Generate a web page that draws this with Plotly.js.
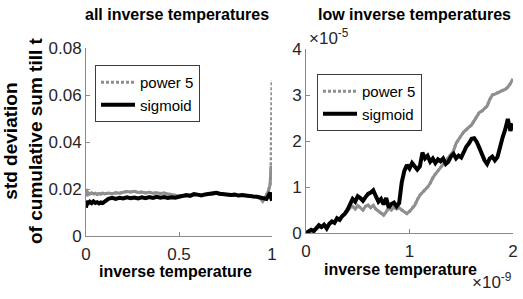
<!DOCTYPE html>
<html>
<head>
<meta charset="utf-8">
<script src="https://cdn.plot.ly/plotly-3.0.1.min.js"></script>
<style>html,body{margin:0;padding:0;background:#fff;}#chart{width:523px;height:299px;}</style>
</head>
<body>
<div id="chart"></div>
<script>
// ---- data: left panel (all inverse temperatures) ----
const leftX = [0,0.005,0.01,0.02,0.03,0.04,0.05,0.06,0.07,0.08,0.09,0.1,0.12,0.14,0.16,0.18,0.2,0.22,0.24,0.26,0.28,0.3,0.32,0.34,0.36,0.38,0.4,0.42,0.44,0.46,0.48,0.5,0.52,0.54,0.56,0.58,0.6,0.62,0.64,0.66,0.68,0.7,0.72,0.74,0.76,0.78,0.8,0.82,0.84,0.86,0.88,0.9,0.92,0.94,0.95,0.96,0.97,0.98,0.99,0.995,1.0];
const leftPower5 = [0.0200,0.0170,0.0185,0.0178,0.0183,0.0179,0.0182,0.0177,0.0181,0.0178,0.0182,0.0179,0.0183,0.0180,0.0184,0.0182,0.0186,0.0189,0.0187,0.0190,0.0185,0.0187,0.0183,0.0186,0.0182,0.0184,0.0181,0.0183,0.0179,0.0176,0.0172,0.0170,0.0172,0.0169,0.0174,0.0178,0.0176,0.0173,0.0176,0.0179,0.0178,0.0182,0.0178,0.0176,0.0177,0.0174,0.0175,0.0171,0.0173,0.0170,0.0171,0.0167,0.0166,0.0158,0.0148,0.0160,0.0175,0.0190,0.0220,0.0300,0.0664];
const leftSigmoid = [0.0120,0.0150,0.0138,0.0146,0.0140,0.0147,0.0141,0.0144,0.0139,0.0143,0.0140,0.0146,0.0158,0.0162,0.0158,0.0163,0.0160,0.0165,0.0161,0.0164,0.0160,0.0165,0.0161,0.0166,0.0162,0.0167,0.0163,0.0166,0.0162,0.0165,0.0163,0.0167,0.0170,0.0174,0.0171,0.0178,0.0176,0.0173,0.0177,0.0180,0.0179,0.0184,0.0180,0.0177,0.0178,0.0175,0.0176,0.0172,0.0174,0.0171,0.0172,0.0168,0.0167,0.0164,0.0160,0.0162,0.0158,0.0170,0.0185,0.0165,0.0150];
const leftXTicks = [0,0.5,1];
const leftYTicks = [0,0.02,0.04,0.06,0.08];

// ---- data: right panel (low inverse temperatures), x in 1e-9, y in 1e-5 ----
const rightX = [0,0.025,0.05,0.075,0.1,0.125,0.15,0.175,0.2,0.225,0.25,0.275,0.3,0.325,0.35,0.375,0.4,0.425,0.45,0.475,0.5,0.525,0.55,0.575,0.6,0.625,0.65,0.675,0.7,0.725,0.75,0.775,0.8,0.825,0.85,0.875,0.9,0.925,0.95,0.975,1,1.025,1.05,1.075,1.1,1.125,1.15,1.175,1.2,1.225,1.25,1.275,1.3,1.325,1.35,1.375,1.4,1.425,1.45,1.475,1.5,1.525,1.55,1.575,1.6,1.625,1.65,1.675,1.7,1.725,1.75,1.775,1.8,1.825,1.85,1.875,1.9,1.925,1.95,1.975,2];
const rightSigmoid = [0,0.03,0.07,0.04,0.12,0.17,0.13,0.18,0.10,0.20,0.25,0.22,0.32,0.29,0.37,0.42,0.50,0.63,0.74,0.68,0.80,0.76,0.70,0.78,0.85,0.88,0.93,0.80,0.68,0.74,0.62,0.76,0.55,0.63,0.66,0.58,0.65,1.10,1.35,1.48,1.40,1.52,1.45,1.38,1.45,1.75,1.62,1.68,1.55,1.62,1.52,1.60,1.56,1.62,1.50,1.55,1.66,1.72,1.62,1.68,1.64,1.78,1.88,1.95,2.05,2.06,1.98,1.85,1.70,1.58,1.50,1.62,1.66,1.58,1.65,1.90,2.08,2.25,2.48,2.22,2.38];
const rightPower5 = [0,0.02,0.05,0.07,0.09,0.14,0.12,0.17,0.11,0.18,0.23,0.24,0.30,0.27,0.36,0.40,0.47,0.55,0.58,0.52,0.60,0.55,0.50,0.58,0.61,0.55,0.60,0.52,0.48,0.44,0.39,0.46,0.55,0.50,0.56,0.52,0.55,0.50,0.45,0.42,0.47,0.53,0.60,0.72,0.82,0.88,0.93,1.00,1.08,1.20,1.28,1.35,1.42,1.48,1.56,1.62,1.70,1.78,1.95,2.05,2.12,2.20,2.24,2.30,2.35,2.45,2.55,2.62,2.65,2.70,2.76,2.90,3.00,3.02,3.05,3.08,3.10,3.12,3.17,3.25,3.35];
const rightXTicks = [0,1,2];
const rightYTicks = [0,1,2,3,4];

const seriesNames = ['power 5','sigmoid'];

// ---- layout helpers (pixel -> paper) ----
const W = 523, H = 299;
const px = v => v / W;
const py = v => 1 - v / H;

const GRAY = '#8f8f8f';
const AXC = '#8a8a8a';
const TXT = '#262626';
const FONT = '"Liberation Sans", Arial, Helvetica, sans-serif';

const nSolidLeft = leftX.length - 1;

const traces = [
  {x: leftX.slice(0, nSolidLeft), y: leftPower5.slice(0, nSolidLeft), xaxis:'x', yaxis:'y', mode:'lines', line:{color:GRAY, width:3}, showlegend:false, hoverinfo:'skip'},
  {x: leftX, y: leftPower5, xaxis:'x', yaxis:'y', mode:'lines', name:seriesNames[0], legend:'legend', line:{color:GRAY, width:3, dash:'3px,2px'}},
  {x: leftX, y: leftSigmoid, xaxis:'x', yaxis:'y', mode:'lines', name:seriesNames[1], legend:'legend', line:{color:'#000', width:4}},
  {x: rightX, y: rightPower5, xaxis:'x2', yaxis:'y2', mode:'lines', line:{color:GRAY, width:3}, showlegend:false, hoverinfo:'skip'},
  {x: rightX, y: rightPower5, xaxis:'x2', yaxis:'y2', mode:'lines', name:seriesNames[0], legend:'legend2', line:{color:GRAY, width:3, dash:'3px,2px'}},
  {x: rightX, y: rightSigmoid, xaxis:'x2', yaxis:'y2', mode:'lines', name:seriesNames[1], legend:'legend2', line:{color:'#000', width:4}}
];

function axis(domain, range, ticks, extra) {
  return Object.assign({
    domain: domain, range: range, tickvals: ticks, ticktext: ticks.map(String),
    showgrid:false, zeroline:false, showline:true, linecolor:AXC, linewidth:1,
    ticks:'inside', ticklen:4, tickcolor:AXC, tickwidth:1,
    tickfont:{family:FONT, size:17, color:TXT}, fixedrange:true
  }, extra || {});
}

const legendStyle = {
  bgcolor:'#ffffff', bordercolor:'#3c3c3c', borderwidth:1,
  font:{family:FONT, size:15, color:'#000'},
  xanchor:'left', yanchor:'top', tracegroupgap:0, itemwidth:34
};

const titleFont = {family:FONT, size:16, color:'#000'};

const layout = {
  width: W, height: H,
  margin:{l:0, r:0, t:0, b:0},
  paper_bgcolor:'#fff', plot_bgcolor:'rgba(0,0,0,0)',
  showlegend:true,
  hovermode:false,
  xaxis: axis([px(86), px(272)], [0,1], leftXTicks, {anchor:'y', ticklabelstandoff:3}),
  yaxis: axis([py(236), py(48)], [0,0.08], leftYTicks, {anchor:'x'}),
  xaxis2: axis([px(306), px(513)], [0,2], rightXTicks, {anchor:'y2', ticklabelstandoff:3}),
  yaxis2: axis([py(233), py(49)], [0,4], rightYTicks, {anchor:'x2'}),
  legend: Object.assign({x:px(95), y:py(65)}, legendStyle),
  legend2: Object.assign({x:px(317), y:py(74)}, legendStyle),
  annotations: [
    {text:'<b>all inverse temperatures</b>', xref:'paper', yref:'paper', x:px(177), y:py(15), xanchor:'center', yanchor:'middle', showarrow:false, font:titleFont},
    {text:'<b>low inverse temperatures</b>', xref:'paper', yref:'paper', x:px(414), y:py(15), xanchor:'center', yanchor:'middle', showarrow:false, font:titleFont},
    {text:'<b>inverse temperature</b>', xref:'paper', yref:'paper', x:px(175), y:py(271), xanchor:'center', yanchor:'middle', showarrow:false, font:titleFont},
    {text:'<b>inverse temperature</b>', xref:'paper', yref:'paper', x:px(400), y:py(269), xanchor:'center', yanchor:'middle', showarrow:false, font:titleFont},
    {text:'<b>std deviation<br>of cumulative sum till t</b>', xref:'paper', yref:'paper', x:px(23), y:py(141), xanchor:'center', yanchor:'middle', textangle:-90, showarrow:false, font:{family:FONT, size:19, color:'#000'}},
    {text:'\u00d710<sup>-5</sup>', xref:'paper', yref:'paper', x:px(307), y:py(37), xanchor:'left', yanchor:'middle', showarrow:false, font:{family:FONT, size:17, color:TXT}},
    {text:'\u00d710<sup>-9</sup>', xref:'paper', yref:'paper', x:px(514), y:py(281), xanchor:'right', yanchor:'middle', showarrow:false, font:{family:FONT, size:17, color:TXT}}
  ]
};

Plotly.newPlot('chart', traces, layout, {displayModeBar:false, staticPlot:true, responsive:false}).then(function (gd) {
  // drop empty placeholder text nodes (e.g. unused axis titles)
  gd.querySelectorAll('svg text').forEach(function (t) {
    if (!t.textContent || !t.textContent.trim()) t.parentNode.removeChild(t);
  });
});
</script>
</body>
</html>
